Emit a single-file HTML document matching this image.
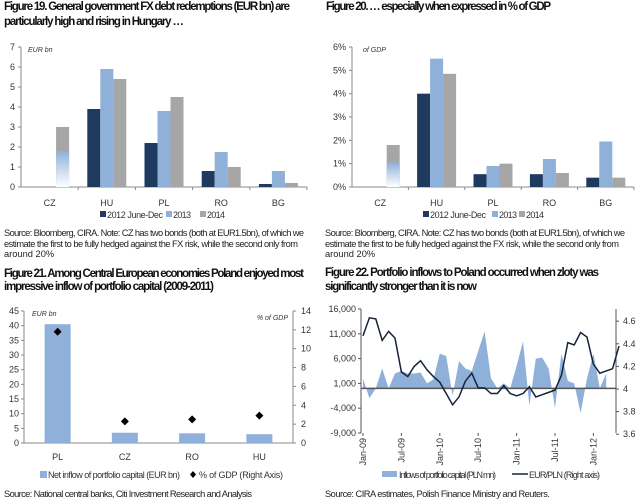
<!DOCTYPE html>
<html><head><meta charset="utf-8"><style>
body{margin:0;background:#fff;}
svg{display:block;font-family:"Liberation Sans",Arial,sans-serif;}
.t{font-weight:bold;font-size:11.5px;fill:#111;}
.s{font-size:9.3px;fill:#222;}
.k{font-size:9px;fill:#333;}
</style></head><body>
<svg id="c" width="640" height="501" viewBox="0 0 640 501">
<defs>
<linearGradient id="fade" x1="0" y1="1" x2="0" y2="0"><stop offset="0" stop-color="#fff"/><stop offset="1" stop-color="#8fb0d9"/></linearGradient>
</defs>
<g>
<text class="t" x="4" y="10" textLength="286">Figure 19. General government FX debt redemptions (EUR bn) are</text>
<text class="t" x="4" y="25" textLength="180">particularly high and rising in Hungary …</text></g>
<g>
<text class="t" x="326" y="10" textLength="225">Figure 20. … especially when expressed in % of GDP</text></g>
<g>
<text class="s" x="4" y="236" textLength="300">Source: Bloomberg, CIRA. Note: CZ has two bonds (both at EUR1.5bn), of which we</text>
<text class="s" x="4" y="247" textLength="294">estimate the first to be fully hedged against the FX risk, while the second only from</text>
<text class="s" x="4" y="257">around 20%</text></g>
<g>
<text class="s" x="325" y="236" textLength="300">Source: Bloomberg, CIRA. Note: CZ has two bonds (both at EUR1.5bn), of which we</text>
<text class="s" x="325" y="247" textLength="294">estimate the first to be fully hedged against the FX risk, while the second only from</text>
<text class="s" x="325" y="257">around 20%</text></g>
<g>
<text class="t" x="4" y="277" textLength="300">Figure 21. Among Central European economies Poland enjoyed most</text>
<text class="t" x="4" y="290" textLength="210">impressive inflow of portfolio capital (2009-2011)</text></g>
<g>
<text class="t" x="325" y="276" textLength="274">Figure 22. Portfolio inflows to Poland occurred when zloty was</text>
<text class="t" x="325" y="290" textLength="152">significantly stronger than it is now</text></g>
<text class="s" x="4" y="497" textLength="248">Source: National central banks, Citi Investment Research and Analysis</text>
<text class="s" x="325" y="497" textLength="225">Source: CIRA estimates, Polish Finance Ministry and Reuters.</text>
</svg>
<script>
const f19Cats=["CZ","HU","PL","RO","BG"];
const f19S2012=[0,3.9,2.2,0.8,0.15];
const f19S2013=[0,5.9,3.8,1.75,0.8];
const f19S2014=[3.0,5.4,4.5,1.0,0.2];
const f19CzHedged=1.8;
const f19Ticks=[0,1,2,3,4,5,6,7];
const f20S2012=[0,4.0,0.55,0.55,0.4];
const f20S2013=[0,5.5,0.9,1.2,1.95];
const f20S2014=[1.8,4.85,1.0,0.6,0.4];
const f20CzHedged=1.05;
const f20Ticks=[0,1,2,3,4,5,6];
const f21Cats=["PL","CZ","RO","HU"];
const f21Inflow=[40.5,3.5,3.3,3.0];
const f21Gdp=[11.8,2.3,2.5,2.9];
const f21LTicks=[0,5,10,15,20,25,30,35,40,45];
const f21RTicks=[0,2,4,6,8,10,12,14];
const f22Inflows=[2000,-2000,0,4000,0,3000,3500,3000,3000,3200,1000,1800,7000,6500,-1500,5500,4000,3500,7500,11500,2000,0,1000,0,4500,9500,-3500,6000,6200,4000,-4000,7000,1500,1000,-5000,2000,7000,0,3000];
const f22EurPln=[4.47,4.63,4.62,4.43,4.51,4.45,4.15,4.11,4.20,4.25,4.17,4.11,4.06,3.96,3.86,3.93,4.07,4.14,4.01,4.01,3.96,3.96,4.03,3.96,3.94,3.96,4.02,3.93,3.95,3.97,3.99,4.12,4.41,4.39,4.50,4.46,4.22,4.14,4.16,4.18,4.38];
const f22LTicks=[-9000,-4000,1000,6000,11000,16000];
const f22RTicks=[3.6,3.8,4.0,4.2,4.4,4.6];
const f22XLabels=["Jan-09","Jul-09","Jan-10","Jul-10","Jan-11","Jul-11","Jan-12"];
const f22XIdx=[0,6,12,18,24,30,36];

const svg=document.getElementById('c');const NS="http://www.w3.org/2000/svg";
function mk(tag,at,txt){const e=document.createElementNS(NS,tag);for(const k in at)e.setAttribute(k,at[k]);if(txt!==undefined)e.textContent=txt;svg.appendChild(e);return e;}
const C1="#1f3a5f",C2="#8fb0d9",C3="#a6a6a6",AX="#888";

function groupChart(x0,x1,yTop,yBot,vmax,ticks,fmt,s1,s2,s3,hedged,unit,ux,pre){
  const Y=v=>yBot-(v/vmax)*(yBot-yTop);
  const step=(x1-x0)/f19Cats.length, bw=13;
  let e=mk('line',{x1:x0,y1:yTop,x2:x0,y2:yBot,stroke:AX});
  
  e=mk('line',{x1:x0,y1:yBot,x2:x1,y2:yBot,stroke:AX});
  
  ticks.forEach(t=>{mk('line',{x1:x0-3,y1:Y(t),x2:x0,y2:Y(t),stroke:AX});
    e=mk('text',{class:'k',x:x0-6,y:Y(t)+3,'text-anchor':'end'},fmt(t));
    });
  e=mk('text',{x:ux,y:yTop+5,'font-size':'7px','font-style':'italic',fill:'#333'},unit);
  
  f19Cats.forEach((c,i)=>{const cx=x0+step*(i+0.5);
    mk('line',{x1:x0+step*(i+1),y1:yBot,x2:x0+step*(i+1),y2:yBot+3,stroke:AX});
    e=mk('text',{class:'k',x:cx,y:yBot+19,'text-anchor':'middle'},c);
    
    [[s1,C1,-1.5],[s2,C2,-0.5],[s3,C3,0.5]].forEach(([s,col,o])=>{if(s[i]>0){
      const r=mk('rect',{x:cx+o*bw,y:Y(s[i]),width:bw,height:yBot-Y(s[i]),fill:col});
      }});
    if(i===0){const r=mk('rect',{x:cx+0.5*bw,y:Y(hedged),width:bw,height:yBot-Y(hedged),fill:'url(#fade)'});
      }
  });
}
groupChart(21,307,47,187,7,f19Ticks,t=>t,f19S2012,f19S2013,f19S2014,f19CzHedged,'EUR bn',28,'fig19');
groupChart(352,634,47,187,6,f20Ticks,t=>t+'%',f20S2012,f20S2013,f20S2014,f20CzHedged,'of GDP',363,'fig20');

function legend3(x,pre,pos){const labs=['2012 June-Dec','2013','2014'],cols=[C1,C2,C3],lens=[56,18,18];
  labs.forEach((l,i)=>{const r=mk('rect',{x:x+pos[i],y:211,width:6,height:6,fill:cols[i]});
    
    const t=mk('text',{class:'k',x:x+pos[i]+7,y:218,textLength:lens[i]},l);
    });}
legend3(100,'fig19',[0,66,100]);legend3(423,'fig20',[0,69,96]);

// Fig21
(function(){const x0=24,x1=293,yT=311,yB=443;const YL=v=>yB-v/45*(yB-yT),YR=v=>yB-v/14*(yB-yT);
  const step=(x1-x0)/f21Cats.length;let e;
  [[x0,'fig21-left-axis'],[x1,'fig21-right-axis']].forEach(([x,n])=>{e=mk('line',{x1:x,y1:yT,x2:x,y2:yB,stroke:AX});});
  e=mk('line',{x1:x0,y1:yB,x2:x1,y2:yB,stroke:AX});
  f21LTicks.forEach(t=>{mk('line',{x1:x0-3,y1:YL(t),x2:x0,y2:YL(t),stroke:AX});e=mk('text',{class:'k',x:x0-5,y:YL(t)+3,'text-anchor':'end'},t);});
  f21RTicks.forEach(t=>{mk('line',{x1:x1,y1:YR(t),x2:x1+3,y2:YR(t),stroke:AX});e=mk('text',{class:'k',x:x1+8,y:YR(t)+3},t);});
  e=mk('text',{x:32,y:316,'font-size':'7px','font-style':'italic',fill:'#333'},'EUR bn');
  e=mk('text',{x:288,y:320,'font-size':'7px','font-style':'italic',fill:'#333','text-anchor':'end'},'% of GDP');
  f21Cats.forEach((c,i)=>{const cx=x0+step*(i+0.5);
    const r=mk('rect',{x:cx-13,y:YL(f21Inflow[i]),width:26,height:yB-YL(f21Inflow[i]),fill:C2});
    
    const y=YR(f21Gdp[i]);const d=mk('path',{d:`M${cx} ${y-4}L${cx+4} ${y}L${cx} ${y+4}L${cx-4} ${y}Z`,fill:'#000'});
    
    e=mk('text',{class:'k',x:cx,y:yB+17,'text-anchor':'middle'},c);});
  e=mk('rect',{x:40,y:471,width:7,height:7,fill:C2});
  e=mk('text',{class:'k',x:48,y:478,textLength:132},'Net inflow of portfolio capital (EUR bn)');
  e=mk('path',{d:'M193 471L196 474.5L193 478L190 474.5Z',fill:'#000'});
  e=mk('text',{class:'k',x:199,y:478,textLength:84},'% of GDP (Right Axis)');
})();

// Fig22
(function(){const x0=361,x1=616,yT=309,yB=433;const YL=v=>yB-(v+9000)/25000*(yB-yT);const YR=v=>389-(v-4)*113;
  const X=i=>363+i*6.4;let e;
  [[x0,'fig22-left-axis'],[x1,'fig22-right-axis']].forEach(([x,n])=>{e=mk('line',{x1:x,y1:yT,x2:x,y2:yB,stroke:'#555'});});
  f22LTicks.forEach(t=>{mk('line',{x1:x0-3,y1:YL(t),x2:x0,y2:YL(t),stroke:'#555'});e=mk('text',{class:'k','font-size':'8px',x:x0-5,y:YL(t)+3,'text-anchor':'end'},t.toLocaleString('en-US'));});
  f22RTicks.forEach(t=>{mk('line',{x1:x1,y1:YR(t),x2:x1+3,y2:YR(t),stroke:'#555'});e=mk('text',{class:'k','font-size':'8px',x:x1+7,y:YR(t)+3},t===4?'4':t.toFixed(1));});
  let d=`M${X(0)} ${YL(0)}`;f22Inflows.forEach((v,i)=>{d+=`L${X(i)} ${YL(v)}`;});d+=`L${X(f22Inflows.length-1)} ${YL(0)}Z`;
  e=mk('path',{d:d,fill:C2,stroke:'none'});
  e=mk('line',{x1:x0,y1:YL(0),x2:x1,y2:YL(0),stroke:'#555','stroke-width':1.5});
  e=mk('polyline',{points:f22EurPln.map((v,i)=>X(i)+','+YR(v)).join(' '),fill:'none',stroke:'#14233a','stroke-width':1.5});
  f22XLabels.forEach((l,j)=>{const x=X(f22XIdx[j]);mk('line',{x1:x,y1:yB,x2:x,y2:yB+3,stroke:'#555'});
    e=mk('text',{class:'k','font-size':'8px',x:0,y:0,'text-anchor':'end',transform:`translate(${x+3},${yB+5}) rotate(-90)`},l);});
  e=mk('rect',{x:382,y:471,width:15,height:6,fill:C2});
  e=mk('text',{class:'k','font-size':'8px',x:399,y:478,textLength:97},'Inflows of portfolio capital  (PLN mn)');
  e=mk('line',{x1:512,y1:474,x2:528,y2:474,stroke:'#14233a','stroke-width':1.5});
  e=mk('text',{class:'k','font-size':'8px',x:529,y:478,textLength:71},'EUR/PLN (Right axis)');
})();
</script>
</body></html>
